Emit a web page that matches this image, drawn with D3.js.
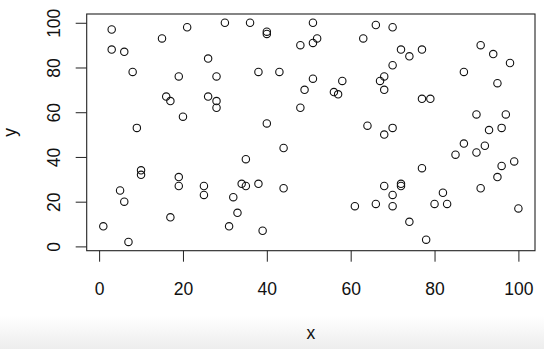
<!DOCTYPE html>
<html>
<head>
<meta charset="utf-8">
<script src="https://cdn.jsdelivr.net/npm/d3@7"></script>
<style>
  html, body { margin: 0; padding: 0; background: #fff; }
  svg { display: block; font-family: "Liberation Sans", Arial, sans-serif; }
</style>
</head>
<body>
<div id="chart"></div>
<script>
/**
 * DATA
 * */
const xs = [3, 3, 6, 8, 9, 15, 21, 16, 17, 19, 20, 26, 28, 26, 28, 28, 30, 36, 40, 40,
  38, 43, 48, 48, 40, 49, 51, 51, 52, 51, 56, 57, 58, 63, 66, 70, 72, 74, 77, 70,
  68, 67, 68, 77, 79, 64, 70, 68, 91, 94, 98, 87, 95, 90, 97, 93, 96,
  1, 7, 5, 6, 10, 10, 19, 19, 17, 25, 25, 35, 34, 35, 38, 32, 33, 31, 39, 44, 44,
  87, 85, 92, 90, 77, 96, 99, 95, 91, 68, 72, 72, 70, 61, 66, 70, 82, 80, 83, 74, 78, 100];
const ys = [97, 88, 87, 78, 53, 93, 98, 67, 65, 76, 58, 84, 76, 67, 65, 62, 100, 100, 96, 95,
  78, 78, 90, 62, 55, 70, 100, 91, 93, 75, 69, 68, 74, 93, 99, 98, 88, 85, 88, 81,
  76, 74, 70, 66, 66, 54, 53, 50, 90, 86, 82, 78, 73, 59, 59, 52, 53,
  9, 2, 25, 20, 34, 32, 31, 27, 13, 27, 23, 39, 28, 27, 28, 22, 15, 9, 7, 44, 26,
  46, 41, 45, 42, 35, 36, 38, 31, 26, 27, 28, 27, 23, 18, 19, 18, 24, 19, 19, 11, 3, 17];
const xTicks = [0, 20, 40, 60, 80, 100];
const yTicks = [0, 20, 40, 60, 80, 100];
const xTitle = "x", yTitle = "y";

/**
 * CONSTANTS
 * */
const width = 544, height = 349;
const plot = { left: 86.7, right: 535, top: 14, bottom: 250.7 };
const fontSize = 17.5;

// R style range extension: 4% on each side
function rExtent(v) {
  const [lo, hi] = d3.extent(v);
  const pad = (hi - lo) * 0.04;
  return [lo - pad, hi + pad];
}

const points = xs.map((x, i) => ({ x, y: ys[i] }));

const xScale = d3.scaleLinear().domain(rExtent(xs)).range([plot.left, plot.right]);
const yScale = d3.scaleLinear().domain(rExtent(ys)).range([plot.bottom, plot.top]);

const svg = d3.select("#chart")
  .append("svg")
  .attr("width", width)
  .attr("height", height);

// light grey band at the bottom of the window
const grad = svg.append("defs").append("linearGradient")
  .attr("id", "band").attr("x1", 0).attr("x2", 0).attr("y1", 0).attr("y2", 1);
grad.append("stop").attr("offset", "0%").attr("stop-color", "#ffffff");
grad.append("stop").attr("offset", "100%").attr("stop-color", "#ededed");
svg.append("rect")
  .attr("x", 0).attr("y", 316)
  .attr("width", width).attr("height", height - 316)
  .attr("fill", "url(#band)");

// axes
const xAxis = svg.append("g")
  .attr("transform", `translate(0,${plot.bottom})`)
  .call(d3.axisBottom(xScale).tickValues(xTicks).tickSize(11).tickSizeOuter(0));
xAxis.select(".domain").remove();
xAxis.selectAll(".tick line").attr("stroke", "#222");
xAxis.selectAll(".tick text")
  .attr("y", 44).attr("dy", 0)
  .attr("fill", "#111")
  .style("font-size", fontSize + "px")
  .style("font-family", "Liberation Sans, Arial, sans-serif");

const yAxis = svg.append("g")
  .attr("transform", `translate(${plot.left},0)`)
  .call(d3.axisLeft(yScale).tickValues(yTicks).tickSize(11).tickSizeOuter(0));
yAxis.select(".domain").remove();
yAxis.selectAll(".tick line").attr("stroke", "#222");
yAxis.selectAll(".tick text")
  .attr("x", null).attr("dy", 0)
  .attr("transform", `translate(${60 - plot.left},0) rotate(-90)`)
  .attr("text-anchor", "middle")
  .attr("fill", "#111")
  .style("font-size", fontSize + "px")
  .style("font-family", "Liberation Sans, Arial, sans-serif");

// plot box
svg.append("rect")
  .attr("x", plot.left).attr("y", plot.top)
  .attr("width", plot.right - plot.left)
  .attr("height", plot.bottom - plot.top)
  .attr("fill", "none")
  .attr("stroke", "#222")
  .attr("stroke-width", 1.1);

// titles
svg.append("text")
  .attr("x", (plot.left + plot.right) / 2)
  .attr("y", 339)
  .attr("text-anchor", "middle")
  .attr("fill", "#111")
  .style("font-size", fontSize + "px")
  .text(xTitle);

svg.append("text")
  .attr("transform", `translate(16,${(plot.top + plot.bottom) / 2}) rotate(-90)`)
  .attr("text-anchor", "middle")
  .attr("fill", "#111")
  .style("font-size", fontSize + "px")
  .text(yTitle);

// points
svg.append("g")
  .selectAll("circle")
  .data(points)
  .join("circle")
  .attr("cx", d => xScale(d.x))
  .attr("cy", d => yScale(d.y))
  .attr("r", 3.7)
  .attr("fill", "none")
  .attr("stroke", "#111")
  .attr("stroke-width", 1.1);
</script>
</body>
</html>
